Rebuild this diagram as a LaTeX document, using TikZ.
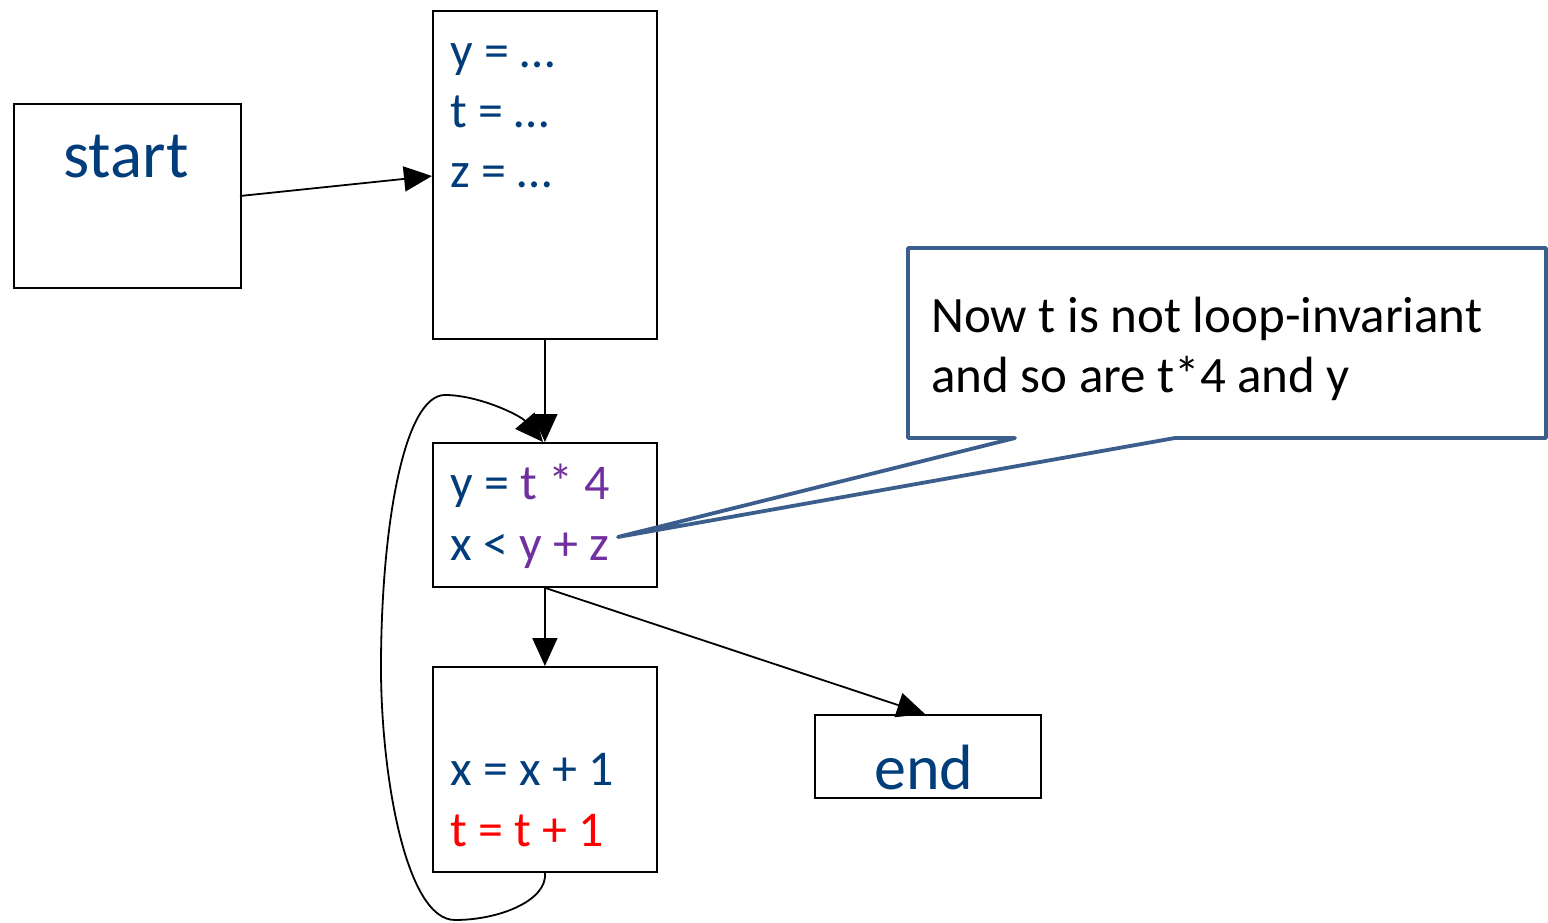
\documentclass[tikz,border=0pt]{standalone}
\usepackage{fontspec}
\setmainfont{Carlito}
\usetikzlibrary{arrows.meta}
\definecolor{codeblue}{RGB}{0,61,122}
\definecolor{codepurple}{RGB}{112,48,160}
\definecolor{codered}{RGB}{255,0,0}
\definecolor{callblue}{RGB}{59,94,140}
\begin{document}
\begin{tikzpicture}[x=1pt,y=-1pt,
  blockbox/.style={draw=black,line width=1.8pt,fill=white,anchor=north west,inner sep=0pt},
  codetext/.style={anchor=base west,inner sep=0pt,text=codeblue,font=\fontsize{50}{60}\selectfont},
  bigtext/.style={anchor=base,inner sep=0pt,text=codeblue},
  calltext/.style={anchor=base west,inner sep=0pt,text=black,font=\fontsize{51}{60}\selectfont},
  flow/.style={line width=1.8pt,-{Triangle[length=28pt,width=25pt]}}]
\useasboundingbox (0,0) rectangle (1548,923);

% boxes
\node[blockbox,minimum width=227pt,minimum height=184pt] (start) at (13,103) {};
\node[blockbox,minimum width=224pt,minimum height=328pt] (b1) at (432,10) {};
\node[blockbox,minimum width=224pt,minimum height=144pt] (b2) at (432,442) {};
\node[blockbox,minimum width=224pt,minimum height=205pt] (b3) at (432,666) {};
\node[blockbox,minimum width=226pt,minimum height=83pt] (end) at (814,714) {};

% texts
\node[bigtext,font=\fontsize{67}{78}\selectfont] (tstart) at (126,178) {start};
\node[bigtext,font=\fontsize{64}{74}\selectfont] (tend) at (924,789) {end};

\node[codetext] (l1) at (450,68) {y = …};
\node[codetext] (l2) at (450,128) {t = …};
\node[codetext] (l3) at (450,187) {z = …};

\node[codetext] (l4) at (450,499) {y = \textcolor{codepurple}{t * 4}};
\node[codetext] (l5) at (450,560) {x < \textcolor{codepurple}{y + z}};

\node[codetext] (l6) at (450,785) {x = x + 1};
\node[codetext,text=codered] (l7) at (450,846) {t = t + 1};

% connectors
\coordinate (startout) at (240,196);
\coordinate (b1in) at (432,176);
\draw[flow] (startout) -- (b1in);
\draw[flow] (b1.south) -- (b2.north);
\draw[flow] (b2.south) -- (b3.north);
\coordinate (endin) at (925,714);
\draw[flow] (b2.south) -- (endin);

% loop back edge
\coordinate (lp1) at (455,920);
\coordinate (lp2) at (381,660);
\coordinate (lp3) at (445,395);
\coordinate (looptip) at (543,442);
\draw[flow] (b3.south) .. controls (548,900) and (500,920) .. (lp1)
  .. controls (405,920) and (380,770) .. (lp2)
  .. controls (382,520) and (405,395) .. (lp3)
  .. controls (478,395) and (520,415) .. (looptip);

% callout
\coordinate (tip) at (618,537);
\draw[callblue,line width=3.8pt,fill=white,line join=round]
  (1015,438) -- (tip) -- (1175,438) -- (1546,438) -- (1546,248) -- (908,248) -- (908,438) -- cycle;
\node[calltext] (c1) at (931,332) {Now t is not loop-invariant};
\node[calltext] (c2) at (931,392) {and so are t*4 and y};
\end{tikzpicture}
\end{document}
